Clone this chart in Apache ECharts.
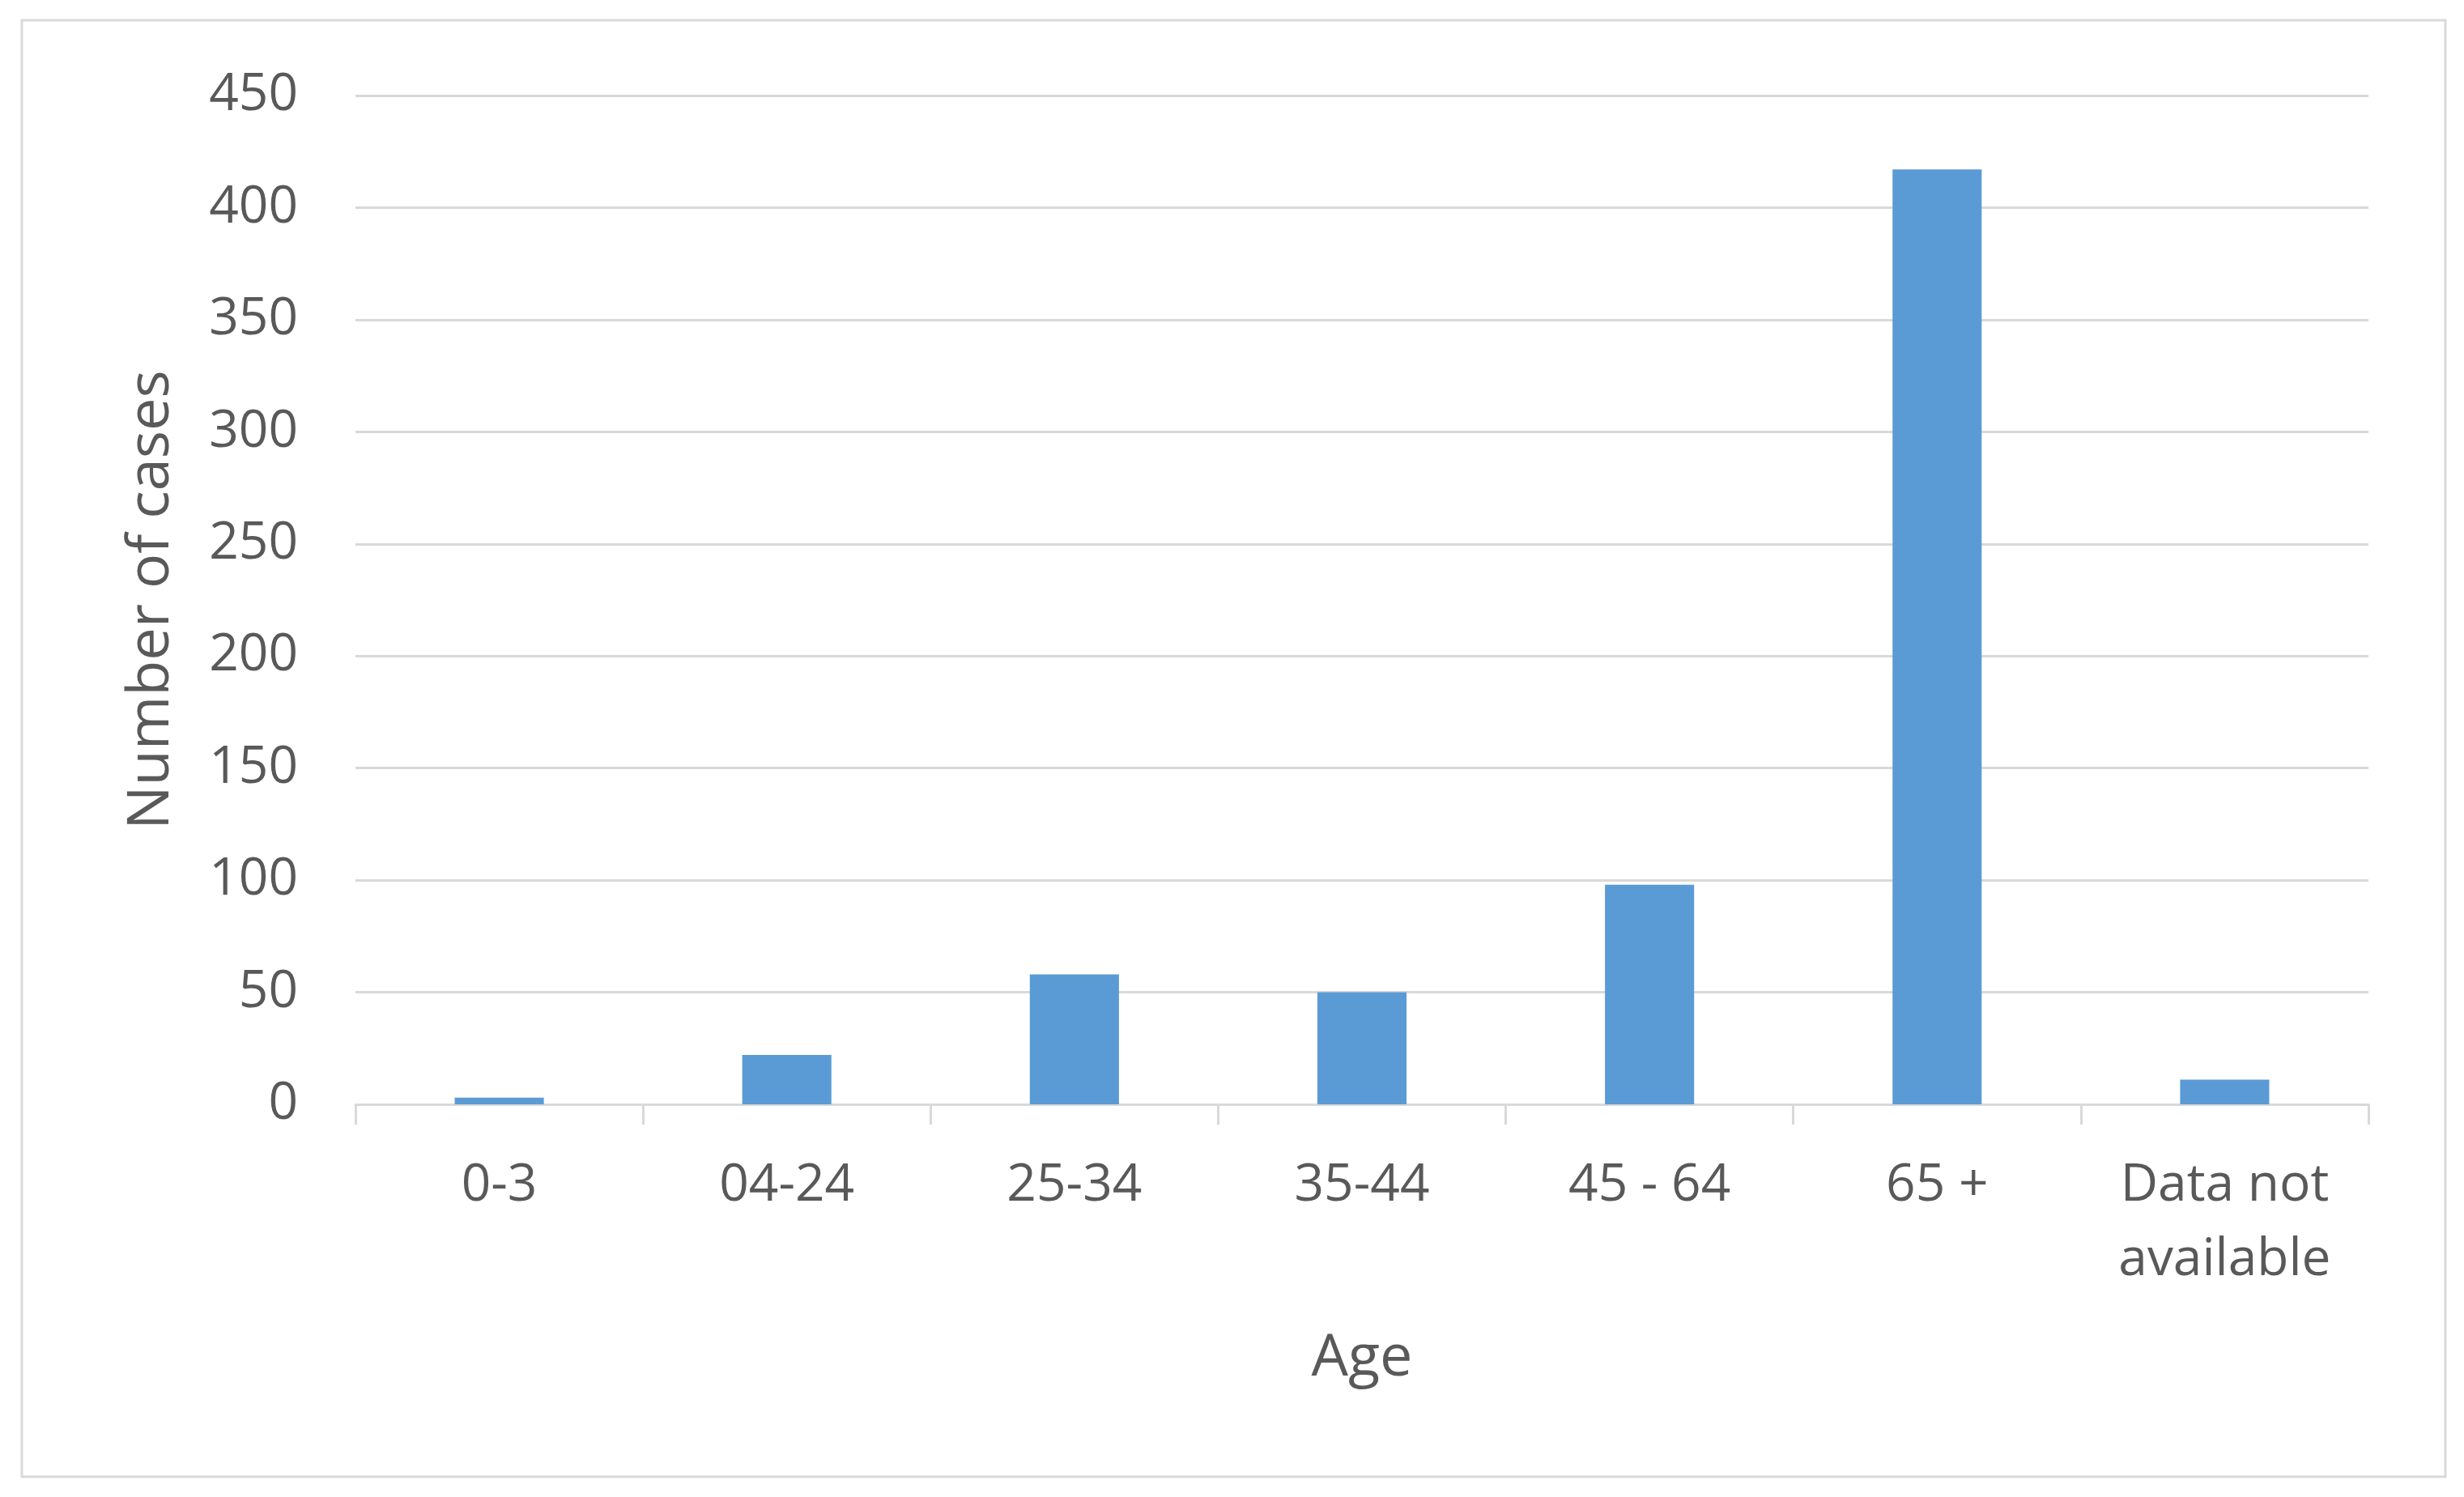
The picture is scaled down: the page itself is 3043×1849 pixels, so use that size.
<!DOCTYPE html>
<html>
<head>
  <meta charset="utf-8">
  <script src="https://cdn.jsdelivr.net/npm/echarts@6/dist/echarts.min.js"></script>
  <style>
    html, body {
      margin: 0;
      padding: 0;
      width: 100%;
      height: 100%;
      background: #ffffff;
    }
    .chart {
      width: 3043px;
      height: 1849px;
    }
  </style>
</head>
<body>
  <div class="chart" id="age_chart"></div>
  <script>
    // 数据
    const categories = ['0-3', '04-24', '25-34', '35-44', '45 - 64', '65 +', 'Data not available']
    const cases = [3, 22, 58, 50, 98, 417, 11]
    const yTicks = [0, 50, 100, 150, 200, 250, 300, 350, 400, 450]

    const chartInstance = echarts.init(document.getElementById('age_chart'))

    const fontFamily = '"Open Sans", "Noto Sans", sans-serif'
    const textColor = '#595959'
    const lineColor = '#d9d9d9'

    const option = {
      backgroundColor: '#ffffff',
      animation: false,
      graphic: [
        {
          type: 'rect',
          shape: { x: 27, y: 25, width: 2993, height: 1799 },
          style: { fill: 'none', stroke: lineColor, lineWidth: 3 },
          silent: true
        }
      ],
      grid: {
        left: 439,
        right: 118,
        top: 118,
        bottom: 485
      },
      xAxis: {
        type: 'category',
        data: categories,
        boundaryGap: true,
        name: 'Age',
        nameLocation: 'middle',
        nameGap: 278,
        nameTextStyle: {
          fontFamily: fontFamily,
          fontSize: 72,
          color: textColor
        },
        axisLine: {
          lineStyle: { color: lineColor, width: 3 }
        },
        axisTick: {
          show: true,
          length: 25,
          lineStyle: { color: lineColor, width: 3 }
        },
        axisLabel: {
          margin: 55,
          fontFamily: fontFamily,
          fontSize: 64,
          lineHeight: 92,
          color: textColor,
          formatter: function (val) {
            return val === 'Data not available' ? 'Data not\navailable' : val
          }
        }
      },
      yAxis: {
        type: 'value',
        min: yTicks[0],
        max: yTicks[yTicks.length - 1],
        interval: yTicks[1] - yTicks[0],
        name: 'Number of cases',
        nameLocation: 'middle',
        nameGap: 216,
        nameRotate: 90,
        nameTextStyle: {
          fontFamily: fontFamily,
          fontSize: 72,
          color: textColor
        },
        axisLine: { show: false },
        axisTick: { show: false },
        axisLabel: {
          margin: 71,
          fontFamily: fontFamily,
          fontSize: 64,
          color: textColor
        },
        splitLine: {
          lineStyle: { color: lineColor, width: 3 }
        }
      },
      series: [
        {
          name: 'Number of cases',
          type: 'bar',
          data: cases,
          barWidth: '31%',
          itemStyle: {
            color: '#5b9bd5'
          }
        }
      ]
    }

    chartInstance.setOption(option)
  </script>
</body>
</html>
